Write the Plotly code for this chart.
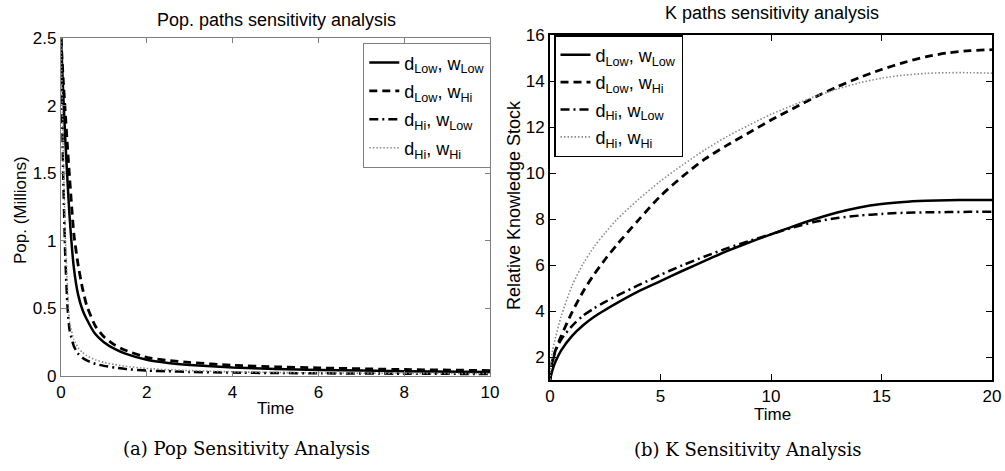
import plotly.graph_objects as go

# ---------------- data: population paths ----------------
pop_t = [0, 0.05, 0.1, 0.15, 0.2, 0.3, 0.4, 0.5, 0.6, 0.8, 1.0, 1.25, 1.5, 2, 2.5, 3, 4, 5, 6, 8, 10]
pop_dlow_wlow = [2.5, 2.1, 1.75, 1.45, 1.18, 0.8, 0.6, 0.49, 0.42, 0.31, 0.25, 0.20, 0.165, 0.12, 0.097, 0.082, 0.062, 0.052, 0.045, 0.036, 0.03]
pop_dlow_whi = [2.5, 2.2, 1.95, 1.7, 1.47, 1.05, 0.82, 0.65, 0.52, 0.37, 0.29, 0.23, 0.19, 0.138, 0.115, 0.10, 0.08, 0.068, 0.06, 0.048, 0.04]
pop_dhi_wlow = [2.5, 1.5, 0.88, 0.52, 0.34, 0.22, 0.165, 0.135, 0.115, 0.09, 0.075, 0.062, 0.052, 0.04, 0.035, 0.03, 0.025, 0.022, 0.02, 0.017, 0.015]
pop_dhi_whi = [2.5, 1.7, 1.05, 0.66, 0.4, 0.27, 0.21, 0.175, 0.15, 0.12, 0.10, 0.085, 0.072, 0.056, 0.046, 0.04, 0.031, 0.026, 0.023, 0.02, 0.018]

# ---------------- data: knowledge stock paths ----------------
k_t = [0, 0.1, 0.25, 0.5, 1, 1.5, 2, 2.5, 3, 4, 5, 6, 7, 8, 9, 10, 11, 12, 13, 14, 15, 16, 17, 18, 19, 20]
k_dlow_wlow = [1.0, 1.4, 1.8, 2.28, 2.92, 3.38, 3.75, 4.05, 4.33, 4.85, 5.3, 5.75, 6.18, 6.6, 6.98, 7.33, 7.68, 8.0, 8.28, 8.5, 8.65, 8.74, 8.79, 8.82, 8.83, 8.83]
k_dlow_whi = [1.0, 1.8, 2.3, 2.9, 3.95, 4.85, 5.6, 6.25, 6.85, 7.95, 9.0, 9.85, 10.6, 11.2, 11.75, 12.3, 12.8, 13.3, 13.75, 14.15, 14.5, 14.8, 15.05, 15.22, 15.32, 15.36]
k_dhi_wlow = [1.0, 1.7, 2.25, 2.75, 3.35, 3.8, 4.12, 4.4, 4.65, 5.12, 5.57, 5.99, 6.37, 6.72, 7.04, 7.34, 7.63, 7.88, 8.04, 8.15, 8.22, 8.27, 8.29, 8.3, 8.31, 8.32]
k_dhi_whi = [1.0, 2.2, 2.85, 3.75, 5.1, 6.05, 6.8, 7.4, 7.95, 8.85, 9.65, 10.35, 11.0, 11.58, 12.08, 12.55, 12.95, 13.33, 13.65, 13.92, 14.12, 14.25, 14.33, 14.36, 14.36, 14.34]

series_names = ["d<sub>Low</sub>, w<sub>Low</sub>", "d<sub>Low</sub>, w<sub>Hi</sub>",
                "d<sub>Hi</sub>, w<sub>Low</sub>", "d<sub>Hi</sub>, w<sub>Hi</sub>"]

pop_xticks = [0, 2, 4, 6, 8, 10]
pop_yticks = [0, 0.5, 1, 1.5, 2, 2.5]
pop_yticklabels = ["0", "0.5", "1", "1.5", "2", "2.5"]
k_xticks = [0, 5, 10, 15, 20]
k_yticks = [2, 4, 6, 8, 10, 12, 14, 16]

styles = [
    dict(color="black", width=2.5, dash="solid"),
    dict(color="black", width=2.8, dash="8px,5px"),
    dict(color="black", width=2.5, dash="9px,4px,2px,4px"),
    dict(color="#8a8a8a", width=1.6, dash="1.5px,2px"),
]

W, H = 1005, 471
def px_x(p): return p / W
def px_y(p): return 1 - p / H

FONT = "Liberation Sans, Arial, sans-serif"
SERIF = "DejaVu Serif, serif"

fig = go.Figure()
pop_series = [pop_dlow_wlow, pop_dlow_whi, pop_dhi_wlow, pop_dhi_whi]
k_series = [k_dlow_wlow, k_dlow_whi, k_dhi_wlow, k_dhi_whi]
for i, (name, ys, st) in enumerate(zip(series_names, pop_series, styles)):
    fig.add_trace(go.Scatter(x=pop_t, y=ys, mode="lines", name=name, legendgroup=f"p{i}",
                             line=dict(shape="spline", smoothing=0.5, **st),
                             xaxis="x", yaxis="y", legend="legend"))
for i, (name, ys, st) in enumerate(zip(series_names, k_series, styles)):
    fig.add_trace(go.Scatter(x=k_t, y=ys, mode="lines", name=name, legendgroup=f"k{i}",
                             line=dict(shape="spline", smoothing=0.8, **st),
                             xaxis="x2", yaxis="y2", legend="legend2"))

common = dict(ticks="inside", mirror="ticks", showline=True, showgrid=False, zeroline=False,
              automargin=False, tickfont=dict(family=FONT, size=17, color="black"))

fig.update_layout(
    width=W, height=H, margin=dict(l=0, r=0, t=0, b=0, pad=0, autoexpand=False),
    paper_bgcolor="white", plot_bgcolor="white",
    showlegend=True,
    xaxis=dict(domain=[px_x(61), px_x(490)], range=[0, 10], tickvals=pop_xticks, anchor="y",
               linecolor="#808080", linewidth=1.3, tickcolor="#808080", ticklen=5, **common),
    yaxis=dict(domain=[px_y(376), px_y(38)], range=[0, 2.5], tickvals=pop_yticks, ticktext=pop_yticklabels, anchor="x",
               linecolor="#808080", linewidth=1.3, tickcolor="#808080", ticklen=5, **common),
    xaxis2=dict(domain=[px_x(550), px_x(992)], range=[0, 20], tickvals=k_xticks, anchor="y2",
                linecolor="black", linewidth=2, tickcolor="black", ticklen=6, **common),
    yaxis2=dict(domain=[px_y(380), px_y(35)], range=[1, 16], tickvals=k_yticks, anchor="x2",
                linecolor="black", linewidth=2, tickcolor="black", ticklen=6, **common),
    legend=dict(x=px_x(491), y=px_y(43), xanchor="right", yanchor="top",
                bgcolor="white", bordercolor="#808080", borderwidth=1.3,
                font=dict(family=FONT, size=18, color="black"), tracegroupgap=2),
    legend2=dict(x=px_x(554), y=px_y(35), xanchor="left", yanchor="top",
                 bgcolor="white", bordercolor="black", borderwidth=1.5,
                 font=dict(family=FONT, size=18, color="black"), tracegroupgap=1),
)

annos = [
    dict(text="Pop. paths sensitivity analysis", x=px_x(276), y=px_y(20), size=18, family=FONT, angle=0),
    dict(text="K paths sensitivity analysis", x=px_x(772), y=px_y(13), size=18, family=FONT, angle=0),
    dict(text="Time", x=px_x(275), y=px_y(408), size=17, family=FONT, angle=0),
    dict(text="Time", x=px_x(772), y=px_y(414), size=17, family=FONT, angle=0),
    dict(text="Pop. (Millions)", x=px_x(20), y=px_y(210), size=17, family=FONT, angle=-90),
    dict(text="Relative Knowledge Stock", x=px_x(514), y=px_y(205), size=18, family=FONT, angle=-90),
    dict(text="(a) Pop Sensitivity Analysis", x=px_x(246), y=px_y(448), size=18, family=SERIF, angle=0),
    dict(text="(b) K Sensitivity Analysis", x=px_x(748), y=px_y(449), size=18, family=SERIF, angle=0),
]
for a in annos:
    fig.add_annotation(text=a["text"], x=a["x"], y=a["y"], xref="paper", yref="paper",
                       xanchor="center", yanchor="middle", showarrow=False, textangle=a["angle"],
                       font=dict(family=a["family"], size=a["size"], color="black"))

fig.write_html("out.html")
